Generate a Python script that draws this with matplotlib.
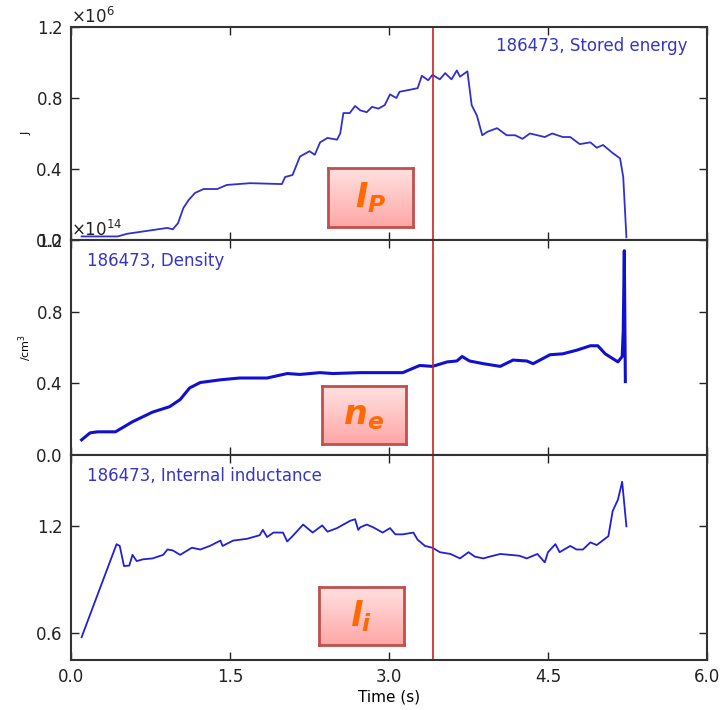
import numpy as np
import matplotlib
matplotlib.use("Agg")
import matplotlib.pyplot as plt
from matplotlib.ticker import ScalarFormatter

# Stored energy (x1e6 J)
t_w = [0.10, 0.44, 0.53, 0.91, 0.96, 1.01, 1.06, 1.11, 1.17, 1.25, 1.38, 1.47,
       1.69, 1.99, 2.02, 2.09, 2.16, 2.25, 2.30, 2.35, 2.42, 2.51, 2.54, 2.57,
       2.63, 2.68, 2.73, 2.79, 2.84, 2.90, 2.96, 3.01, 3.07, 3.10, 3.27, 3.31,
       3.37, 3.41, 3.48, 3.53, 3.59, 3.64, 3.67, 3.74, 3.78, 3.83, 3.88, 3.93,
       4.02, 4.11, 4.19, 4.26, 4.33, 4.47, 4.54, 4.64, 4.71, 4.80, 4.90, 4.96,
       5.02, 5.11, 5.18, 5.21, 5.24]
w = [0.02, 0.02, 0.035, 0.068, 0.06, 0.095, 0.18, 0.225, 0.265, 0.287, 0.287, 0.31,
     0.32, 0.315, 0.355, 0.366, 0.47, 0.50, 0.48, 0.55, 0.575, 0.565, 0.60, 0.715,
     0.715, 0.755, 0.73, 0.72, 0.75, 0.74, 0.76, 0.82, 0.80, 0.835, 0.855, 0.925,
     0.90, 0.93, 0.905, 0.94, 0.905, 0.955, 0.92, 0.95, 0.76, 0.70, 0.59, 0.61,
     0.63, 0.59, 0.59, 0.57, 0.60, 0.58, 0.60, 0.58, 0.58, 0.54, 0.55, 0.52,
     0.535, 0.49, 0.46, 0.355, 0.015]

# Density (x1e14 /cm3)
t_n = [0.10, 0.18, 0.25, 0.42, 0.58, 0.77, 0.93, 1.03, 1.12, 1.22, 1.41, 1.59,
       1.85, 2.04, 2.16, 2.35, 2.47, 2.73, 2.92, 3.13, 3.29, 3.41, 3.55, 3.64,
       3.69, 3.76, 3.89, 4.05, 4.17, 4.30, 4.36, 4.52, 4.64, 4.77, 4.90, 4.97,
       5.04, 5.16, 5.20, 5.21, 5.22, 5.23]
n = [0.085, 0.124, 0.13, 0.13, 0.186, 0.24, 0.27, 0.31, 0.375, 0.405, 0.42, 0.43,
     0.43, 0.455, 0.45, 0.46, 0.455, 0.46, 0.46, 0.46, 0.50, 0.495, 0.52, 0.525,
     0.55, 0.525, 0.51, 0.495, 0.53, 0.525, 0.51, 0.56, 0.565, 0.585, 0.61, 0.61,
     0.565, 0.52, 0.55, 0.69, 1.14, 0.41]

# Internal inductance
t_l = [0.10, 0.43, 0.46, 0.50, 0.55, 0.58, 0.62, 0.68, 0.77, 0.87, 0.91, 0.96,
       1.03, 1.14, 1.22, 1.31, 1.41, 1.43, 1.53, 1.66, 1.78, 1.81, 1.85, 1.91,
       2.00, 2.04, 2.09, 2.19, 2.28, 2.37, 2.42, 2.51, 2.63, 2.68, 2.71, 2.73,
       2.79, 2.85, 2.94, 3.01, 3.06, 3.13, 3.23, 3.27, 3.34, 3.41, 3.48, 3.58,
       3.67, 3.75, 3.81, 3.89, 3.95, 4.05, 4.14, 4.23, 4.30, 4.40, 4.47, 4.50,
       4.57, 4.61, 4.71, 4.77, 4.83, 4.90, 4.96, 5.07, 5.11, 5.16, 5.20, 5.24]
li = [0.578, 1.10, 1.09, 0.977, 0.98, 1.04, 1.005, 1.015, 1.02, 1.04, 1.07, 1.065,
      1.04, 1.08, 1.07, 1.09, 1.12, 1.09, 1.12, 1.13, 1.15, 1.18, 1.14, 1.165,
      1.165, 1.115, 1.145, 1.21, 1.165, 1.205, 1.17, 1.19, 1.23, 1.24, 1.18, 1.195,
      1.21, 1.195, 1.165, 1.19, 1.155, 1.155, 1.165, 1.125, 1.09, 1.08, 1.055, 1.045,
      1.02, 1.055, 1.03, 1.02, 1.03, 1.045, 1.04, 1.035, 1.02, 1.045, 0.998, 1.055,
      1.10, 1.055, 1.09, 1.07, 1.07, 1.11, 1.095, 1.145, 1.285, 1.35, 1.45, 1.20]

t_mark = 3.415
labels = ["186473, Stored energy", "186473, Density", "186473, Internal inductance"]

fig = plt.figure(figsize=(7.2, 7.1), dpi=100)
ax1 = fig.add_axes([0.0986, 0.662, 0.8833, 0.300])
ax2 = fig.add_axes([0.0986, 0.359, 0.8833, 0.303])
ax3 = fig.add_axes([0.0986, 0.0704, 0.8833, 0.2887])

ax1.plot(t_w, np.array(w) * 1e6, color="#3030d0", lw=1.3)
ax2.plot(t_n, np.array(n) * 1e14, color="#1010d0", lw=2.2)
ax3.plot(t_l, li, color="#2020d8", lw=1.3)

ax1.set_ylim(0, 1.2e6)
ax1.set_yticks([0, 0.4e6, 0.8e6, 1.2e6])
ax2.set_ylim(0, 1.2e14)
ax2.set_yticks([0, 0.4e14, 0.8e14, 1.2e14])
ax3.set_ylim(0.45, 1.6)
ax3.set_yticks([0.6, 1.2])

for ax in (ax1, ax2, ax3):
    ax.set_xlim(0, 6)
    ax.set_xticks([0, 1.5, 3.0, 4.5, 6.0])
    ax.axvline(t_mark, color="#cc2020", lw=1.2)
    ax.tick_params(direction="in", top=True, right=True, length=6, width=1,
                   labelsize=12, colors="#222222", pad=6)
    for s in ax.spines.values():
        s.set_color("#333333")
        s.set_linewidth(1.5)
    fmt = ScalarFormatter(useMathText=True)
    ax.yaxis.set_major_formatter(fmt)
    ax.yaxis.get_offset_text().set_fontsize(12)

ax1.tick_params(labelbottom=False)
ax2.tick_params(labelbottom=False)
ax3.set_xticklabels(["0.0", "1.5", "3.0", "4.5", "6.0"])

ax1.set_ylabel("J", fontsize=8, labelpad=3)
ax2.set_ylabel("/cm$^3$", fontsize=8, labelpad=1)
ax3.set_xlabel("Time (s)", fontsize=11, labelpad=2)

ax1.text(0.97, 0.91, labels[0], transform=ax1.transAxes, ha="right", va="center",
         color="#3535c8", fontsize=12)
ax2.text(0.025, 0.9, labels[1], transform=ax2.transAxes, ha="left", va="center",
         color="#3535c8", fontsize=12)
ax3.text(0.025, 0.9, labels[2], transform=ax3.transAxes, ha="left", va="center",
         color="#3535c8", fontsize=12)

# annotation boxes
grad = np.linspace(0, 1, 100).reshape(-1, 1)
box_cmap = matplotlib.colors.LinearSegmentedColormap.from_list("pk", ["#ffe2e2", "#ffa6a6"])
boxes = [([0.4556, 0.6803, 0.118, 0.0831], r"$\mathbfit{I}_{\mathbfit{P}}$"),
         ([0.4472, 0.3746, 0.1167, 0.0817], r"$\mathbfit{n}_{\mathbfit{e}}$"),
         ([0.4431, 0.0915, 0.118, 0.0817], r"$\mathbfit{l}_{\mathbfit{i}}$")]
for pos, txt in boxes:
    bx = fig.add_axes(pos)
    bx.imshow(grad, aspect="auto", cmap=box_cmap, extent=[0, 1, 0, 1])
    bx.set_xticks([])
    bx.set_yticks([])
    for s in bx.spines.values():
        s.set_color("#c0504d")
        s.set_linewidth(2)
    bx.text(0.5, 0.5, txt, ha="center", va="center", color="#ff6a00", fontsize=24,
            transform=bx.transAxes)

fig.savefig("out.png", dpi=100)
